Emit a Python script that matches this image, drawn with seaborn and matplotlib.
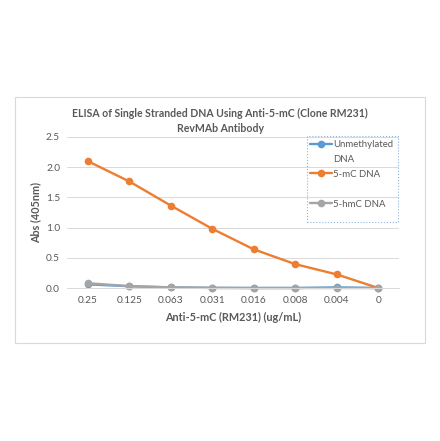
import pandas as pd
import seaborn as sns
import matplotlib.pyplot as plt
from matplotlib.lines import Line2D
from matplotlib.patches import Rectangle

conc = ["0.25", "0.125", "0.063", "0.031", "0.016", "0.008", "0.004", "0"]
unmethylated = [0.06, 0.03, 0.01, 0.0, 0.0, 0.0, 0.01, 0.0]
mc5 = [2.10, 1.765, 1.365, 0.98, 0.64, 0.395, 0.225, 0.0]
hmc5 = [0.08, 0.03, 0.01, 0.005, 0.0, 0.0, 0.0, 0.0]
series = ["Unmethylated DNA", "5-mC DNA", "5-hmC DNA"]
colors = ["#5B9BD5", "#ED7D31", "#A5A5A5"]

rows = []
for name, vals in zip(series, [unmethylated, mc5, hmc5]):
    for c, v in zip(conc, vals):
        rows.append({"conc": c, "abs": v, "series": name})
df = pd.DataFrame(rows)

sns.set_style("white")
plt.rcParams['font.family'] = ['Lato', 'DejaVu Sans']
txt = "#595959"

fig = plt.figure(figsize=(4.4, 4.41), dpi=100)
# outer chart frame
fig.patches.append(Rectangle((15 / 440, 1 - 343 / 441), 410 / 440, 246 / 441,
                             transform=fig.transFigure, fill=False,
                             edgecolor="#D9D9D9", linewidth=0.8))
# legend box (dotted)
fig.patches.append(Rectangle((307 / 440, 1 - 222 / 441), 91 / 440, 86 / 441,
                             transform=fig.transFigure, fill=False,
                             edgecolor="#8FB4DE", linewidth=0.8,
                             linestyle=":", zorder=5))
ax = fig.add_axes([67 / 440, 1 - 288 / 441, 332 / 440, 151 / 441])

pal = dict(zip(series, colors))
sns.lineplot(data=df, x="conc", y="abs", hue="series", hue_order=series,
             palette=pal, marker="o", markersize=5.5, markeredgewidth=0,
             linewidth=1.7, sort=False, clip_on=False, legend=False, ax=ax)

ax.set_xlim(-0.5, 7.5)
ax.set_ylim(0, 2.5)
ax.set_yticks([0, 0.5, 1.0, 1.5, 2.0, 2.5])
ax.set_yticklabels(["0.0", "0.5", "1.0", "1.5", "2.0", "2.5"])
ax.yaxis.grid(True, color="#D9D9D9", linewidth=0.7)
ax.set_axisbelow(True)
for s in ["top", "right", "left"]:
    ax.spines[s].set_visible(False)
ax.spines["bottom"].set_color("#D9D9D9")
ax.spines["bottom"].set_linewidth(0.7)
ax.tick_params(axis="x", length=0, labelsize=7.3, labelcolor=txt, pad=6)
ax.tick_params(axis="y", length=0, labelsize=7.3, labelcolor=txt, pad=5)

ax.set_xlabel("Anti-5-mC (RM231) (ug/mL)", fontsize=7.8, fontweight="bold",
              color=txt, labelpad=5)
ax.set_ylabel("Abs (405nm)", fontsize=7.8, fontweight="bold", color=txt,
              labelpad=3)
fig.text(0.5, 1 - 121 / 441,
         "ELISA of Single Stranded DNA Using Anti-5-mC (Clone RM231)\nRevMAb Antibody",
         ha="center", va="center", fontsize=7.6, fontweight="bold", color=txt,
         linespacing=1.35)

# Excel-style legend: the wrapped label and empty rows keep entries evenly spaced
blank = Line2D([], [], linestyle="none")
handles = [Line2D([], [], color=colors[0], marker="o", markersize=5.5,
                  markeredgewidth=0, linewidth=1.7), blank,
           Line2D([], [], color=colors[1], marker="o", markersize=5.5,
                  markeredgewidth=0, linewidth=1.7), blank,
           Line2D([], [], color=colors[2], marker="o", markersize=5.5,
                  markeredgewidth=0, linewidth=1.7)]
labels = ["Unmethylated", "DNA", "5-mC DNA", "", "5-hmC DNA"]
leg = ax.legend(handles, labels, loc="upper left",
                bbox_to_anchor=(308 / 440, 1 - 138 / 441),
                bbox_transform=fig.transFigure, frameon=False,
                fontsize=6.9, labelcolor=txt, labelspacing=0.62,
                handlelength=2.3, handletextpad=0.1, borderpad=0.2,
                borderaxespad=0)

fig.savefig("out.png", dpi=100)
